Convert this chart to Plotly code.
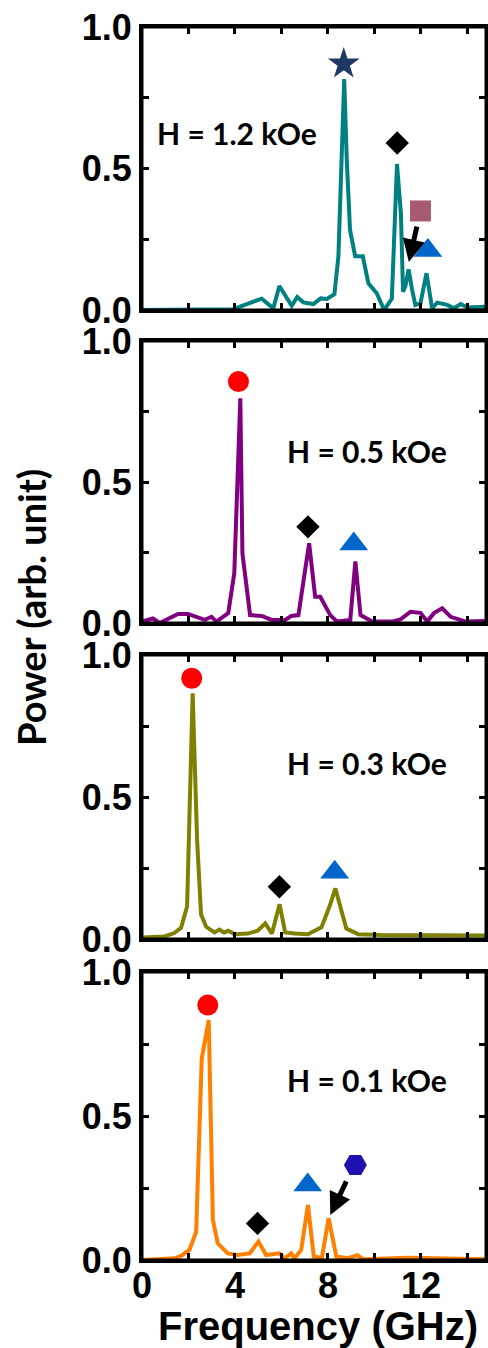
import plotly.graph_objects as go

# ---------------- data ----------------
freq_12 = [0.0, 2.0, 3.93, 4.80, 5.15, 5.65, 5.91, 6.44, 6.68, 6.94, 7.37, 7.69, 7.95, 8.28, 8.45, 8.70, 8.81,
           8.95, 9.17, 9.50, 9.74, 10.10, 10.42, 10.75, 10.97, 11.14, 11.23, 11.33, 11.47, 11.62, 11.76,
           11.98, 12.24, 12.48, 12.70, 13.13, 13.42, 13.71, 14.00, 14.89]
power_12 = [0.0, 0.0, 0.003, 0.03, 0.04, 0.006, 0.085, 0.015, 0.046, 0.027, 0.021, 0.041, 0.039, 0.056, 0.19,
            0.816, 0.53, 0.283, 0.19, 0.19, 0.094, 0.059, 0.0, 0.04, 0.516, 0.34, 0.065, 0.083, 0.144, 0.072,
            0.018, 0.023, 0.13, 0.006, 0.026, 0.018, 0.006, 0.021, 0.009, 0.012]

freq_05 = [0.0, 0.47, 0.76, 1.55, 1.98, 2.70, 2.99, 3.20, 3.71, 3.97, 4.23, 4.32, 4.65, 5.15, 5.58, 6.16,
           6.42, 6.73, 7.19, 7.45, 7.67, 8.10, 8.39, 8.96, 9.18, 9.40, 9.90, 10.76, 11.12, 11.55, 11.98,
           12.27, 12.56, 12.92, 13.28, 13.93, 14.96]
power_05 = [0.005, 0.016, 0.0, 0.032, 0.032, 0.011, 0.022, 0.005, 0.035, 0.176, 0.797, 0.247, 0.028, 0.025,
            0.011, 0.011, 0.025, 0.028, 0.283, 0.093, 0.093, 0.028, 0.005, 0.011, 0.218, 0.028, 0.005, 0.005,
            0.013, 0.04, 0.036, 0.005, 0.035, 0.052, 0.022, 0.005, 0.007]

freq_03 = [0.0, 0.96, 1.39, 1.68, 1.94, 2.18, 2.37, 2.54, 2.76, 3.12, 3.33, 3.52, 3.72, 3.98, 4.55, 4.98,
           5.30, 5.59, 5.92, 6.16, 6.57, 7.14, 7.72, 8.07, 8.32, 8.58, 8.79, 9.30, 10.30, 14.89]
power_03 = [0.005, 0.009, 0.021, 0.039, 0.115, 0.865, 0.349, 0.087, 0.043, 0.023, 0.033, 0.023, 0.029, 0.017,
            0.019, 0.029, 0.055, 0.019, 0.122, 0.023, 0.019, 0.017, 0.041, 0.115, 0.178, 0.103, 0.037, 0.017,
            0.014, 0.012]

freq_01 = [0.0, 1.39, 1.68, 2.04, 2.33, 2.57, 2.87, 3.05, 3.26, 3.69, 4.12, 4.63, 5.01, 5.34, 5.91, 6.13,
           6.42, 6.56, 6.85, 7.14, 7.39, 7.74, 8.03, 8.36, 8.86, 9.27, 9.51, 11.45, 14.93]
power_01 = [0.0, 0.006, 0.014, 0.035, 0.098, 0.70, 0.833, 0.139, 0.058, 0.023, 0.017, 0.023, 0.064, 0.017,
            0.023, 0.006, 0.023, 0.006, 0.035, 0.191, 0.012, 0.008, 0.145, 0.012, 0.006, 0.017, 0.003, 0.008,
            0.002]

panel_labels = ["H = 1.2 kOe", "H = 0.5 kOe", "H = 0.3 kOe", "H = 0.1 kOe"]
label_x = [4.1, 9.7, 9.7, 9.7]
label_y = [0.625, 0.61, 0.62, 0.625]
line_colors = ["#008080", "#800080", "#808000", "#ff8000"]

# mode markers: (panel, symbol, colour, freq, power, size)
mode_panel = [1, 1, 1, 1, 2, 2, 2, 3, 3, 3, 4, 4, 4, 4]
mode_symbol = ["star", "diamond", "square", "triangle-up", "circle", "diamond", "triangle-up",
               "circle", "diamond", "triangle-up", "circle", "diamond", "triangle-up", "hexagon2"]
mode_color = ["#1f3864", "black", "#a65c6e", "#0066cc", "#ff0000", "black", "#0066cc",
              "#ff0000", "black", "#0066cc", "#ff0000", "black", "#0066cc", "#2010b0"]
mode_freq = [8.68, 10.98, 11.98, 12.30, 4.15, 7.14, 9.11, 2.14, 5.91, 8.29, 2.83, 4.97, 7.13, 9.18]
mode_power = [0.87, 0.59, 0.35, 0.21, 0.856, 0.341, 0.28, 0.918, 0.184, 0.235, 0.885, 0.127, 0.26, 0.33]
mode_size = [24, 18, 21, 25, 21, 18, 25, 21, 18, 25, 21, 18, 25, 23]

# arrows: (panel, tail freq, tail power, head freq, head power)
arrow_panel = [1, 4]
arrow_tail_f = [11.84, 8.82]
arrow_tail_p = [0.30, 0.278]
arrow_head_f = [11.48, 8.10]
arrow_head_p = [0.17, 0.156]

x_ticks = [0, 2, 4, 6, 8, 10, 12, 14]
x_ticktext = ["0", "", "4", "", "8", "", "12", ""]
y_ticks = [0, 0.25, 0.5, 0.75, 1.0]
y_ticktext = ["0.0", "", "0.5", "", "1.0"]

freqs = [freq_12, freq_05, freq_03, freq_01]
powers = [power_12, power_05, power_03, power_01]

# ---------------- figure ----------------
W, H = 488, 1348
ML, MR, MT, MB = 142, 2, 27, 88
plot_h = H - MT - MB
panel_px = [(27, 310), (341, 623), (655, 939), (972, 1260)]
domains = [[(1260 - b) / plot_h, (1260 - t) / plot_h] for (t, b) in panel_px]

tick_font = dict(family="Liberation Sans, Arial, sans-serif", size=36, color="black", weight="bold")

fig = go.Figure()
for i in range(4):
    sfx = "" if i == 0 else str(i + 1)
    fig.add_trace(go.Scatter(x=freqs[i], y=powers[i], mode="lines",
                             line=dict(color=line_colors[i], width=4),
                             xaxis="x" + sfx, yaxis="y" + sfx, showlegend=False, hoverinfo="skip"))

for k in range(len(mode_panel)):
    p = mode_panel[k]
    sfx = "" if p == 1 else str(p)
    fig.add_trace(go.Scatter(x=[mode_freq[k]], y=[mode_power[k]], mode="markers",
                             marker=dict(symbol=mode_symbol[k], color=mode_color[k], size=mode_size[k],
                                         line=dict(width=0)),
                             xaxis="x" + sfx, yaxis="y" + sfx, showlegend=False, cliponaxis=False))

layout = dict(width=W, height=H, margin=dict(l=ML, r=MR, t=MT, b=MB),
              paper_bgcolor="white", plot_bgcolor="white", showlegend=False, template="none")
for i in range(4):
    sfx = "" if i == 0 else str(i + 1)
    layout["xaxis" + sfx] = dict(
        domain=[0, 1], anchor="y" + sfx, range=[0, 14.8], tickmode="array",
        tickvals=x_ticks, ticktext=x_ticktext if i == 3 else [""] * len(x_ticks),
        showticklabels=(i == 3), ticks="inside", ticklen=7, tickwidth=3, tickcolor="black",
        showline=True, linewidth=3, linecolor="black", mirror="ticks", showgrid=False,
        zeroline=False, tickfont=tick_font, automargin=False, ticklabelstandoff=-8)
    layout["yaxis" + sfx] = dict(
        domain=domains[i], anchor="x" + sfx, range=[0, 1.0], tickmode="array",
        tickvals=y_ticks, ticktext=y_ticktext, ticks="inside", ticklen=7, tickwidth=3,
        tickcolor="black", showline=True, linewidth=3, linecolor="black", mirror="ticks",
        showgrid=False, zeroline=False, tickfont=tick_font, automargin=False)
fig.update_layout(**layout)

# frame around every panel
for i in range(4):
    sfx = "" if i == 0 else str(i + 1)
    fig.add_shape(type="rect", xref="x" + sfx + " domain", yref="y" + sfx + " domain",
                  x0=0, x1=1, y0=0, y1=1, line=dict(color="black", width=3), layer="above")

annotations = []
for i in range(4):
    sfx = "" if i == 0 else str(i + 1)
    annotations.append(dict(x=label_x[i], y=label_y[i], xref="x" + sfx, yref="y" + sfx,
                            text=panel_labels[i], showarrow=False, xanchor="center", yanchor="middle",
                            font=dict(family="Lato, sans-serif", size=30, color="black", weight="bold")))
for k in range(len(arrow_panel)):
    p = arrow_panel[k]
    sfx = "" if p == 1 else str(p)
    annotations.append(dict(x=arrow_head_f[k], y=arrow_head_p[k], ax=arrow_tail_f[k], ay=arrow_tail_p[k],
                            xref="x" + sfx, yref="y" + sfx, axref="x" + sfx, ayref="y" + sfx,
                            text="", showarrow=True, arrowhead=2, arrowsize=0.9, arrowwidth=5,
                            arrowcolor="black"))
annotations.append(dict(x=(318 - ML) / (W - ML - MR), y=(1260 - 1326) / plot_h, xref="paper", yref="paper",
                        text="Frequency (GHz)", showarrow=False, xanchor="center", yanchor="middle",
                        font=dict(family="Liberation Sans, Arial, sans-serif", size=40, color="black",
                                  weight="bold")))
annotations.append(dict(x=(31 - ML) / (W - ML - MR), y=(1260 - 608) / plot_h, xref="paper", yref="paper",
                        text="Power (arb. unit)", showarrow=False, textangle=-90,
                        xanchor="center", yanchor="middle",
                        font=dict(family="Lato, sans-serif", size=38, color="black", weight="bold")))
fig.update_layout(annotations=annotations)

fig.write_html("out.html", config={"displayModeBar": False},
               post_script="document.body.style.margin='0';document.body.style.overflow='hidden';")
